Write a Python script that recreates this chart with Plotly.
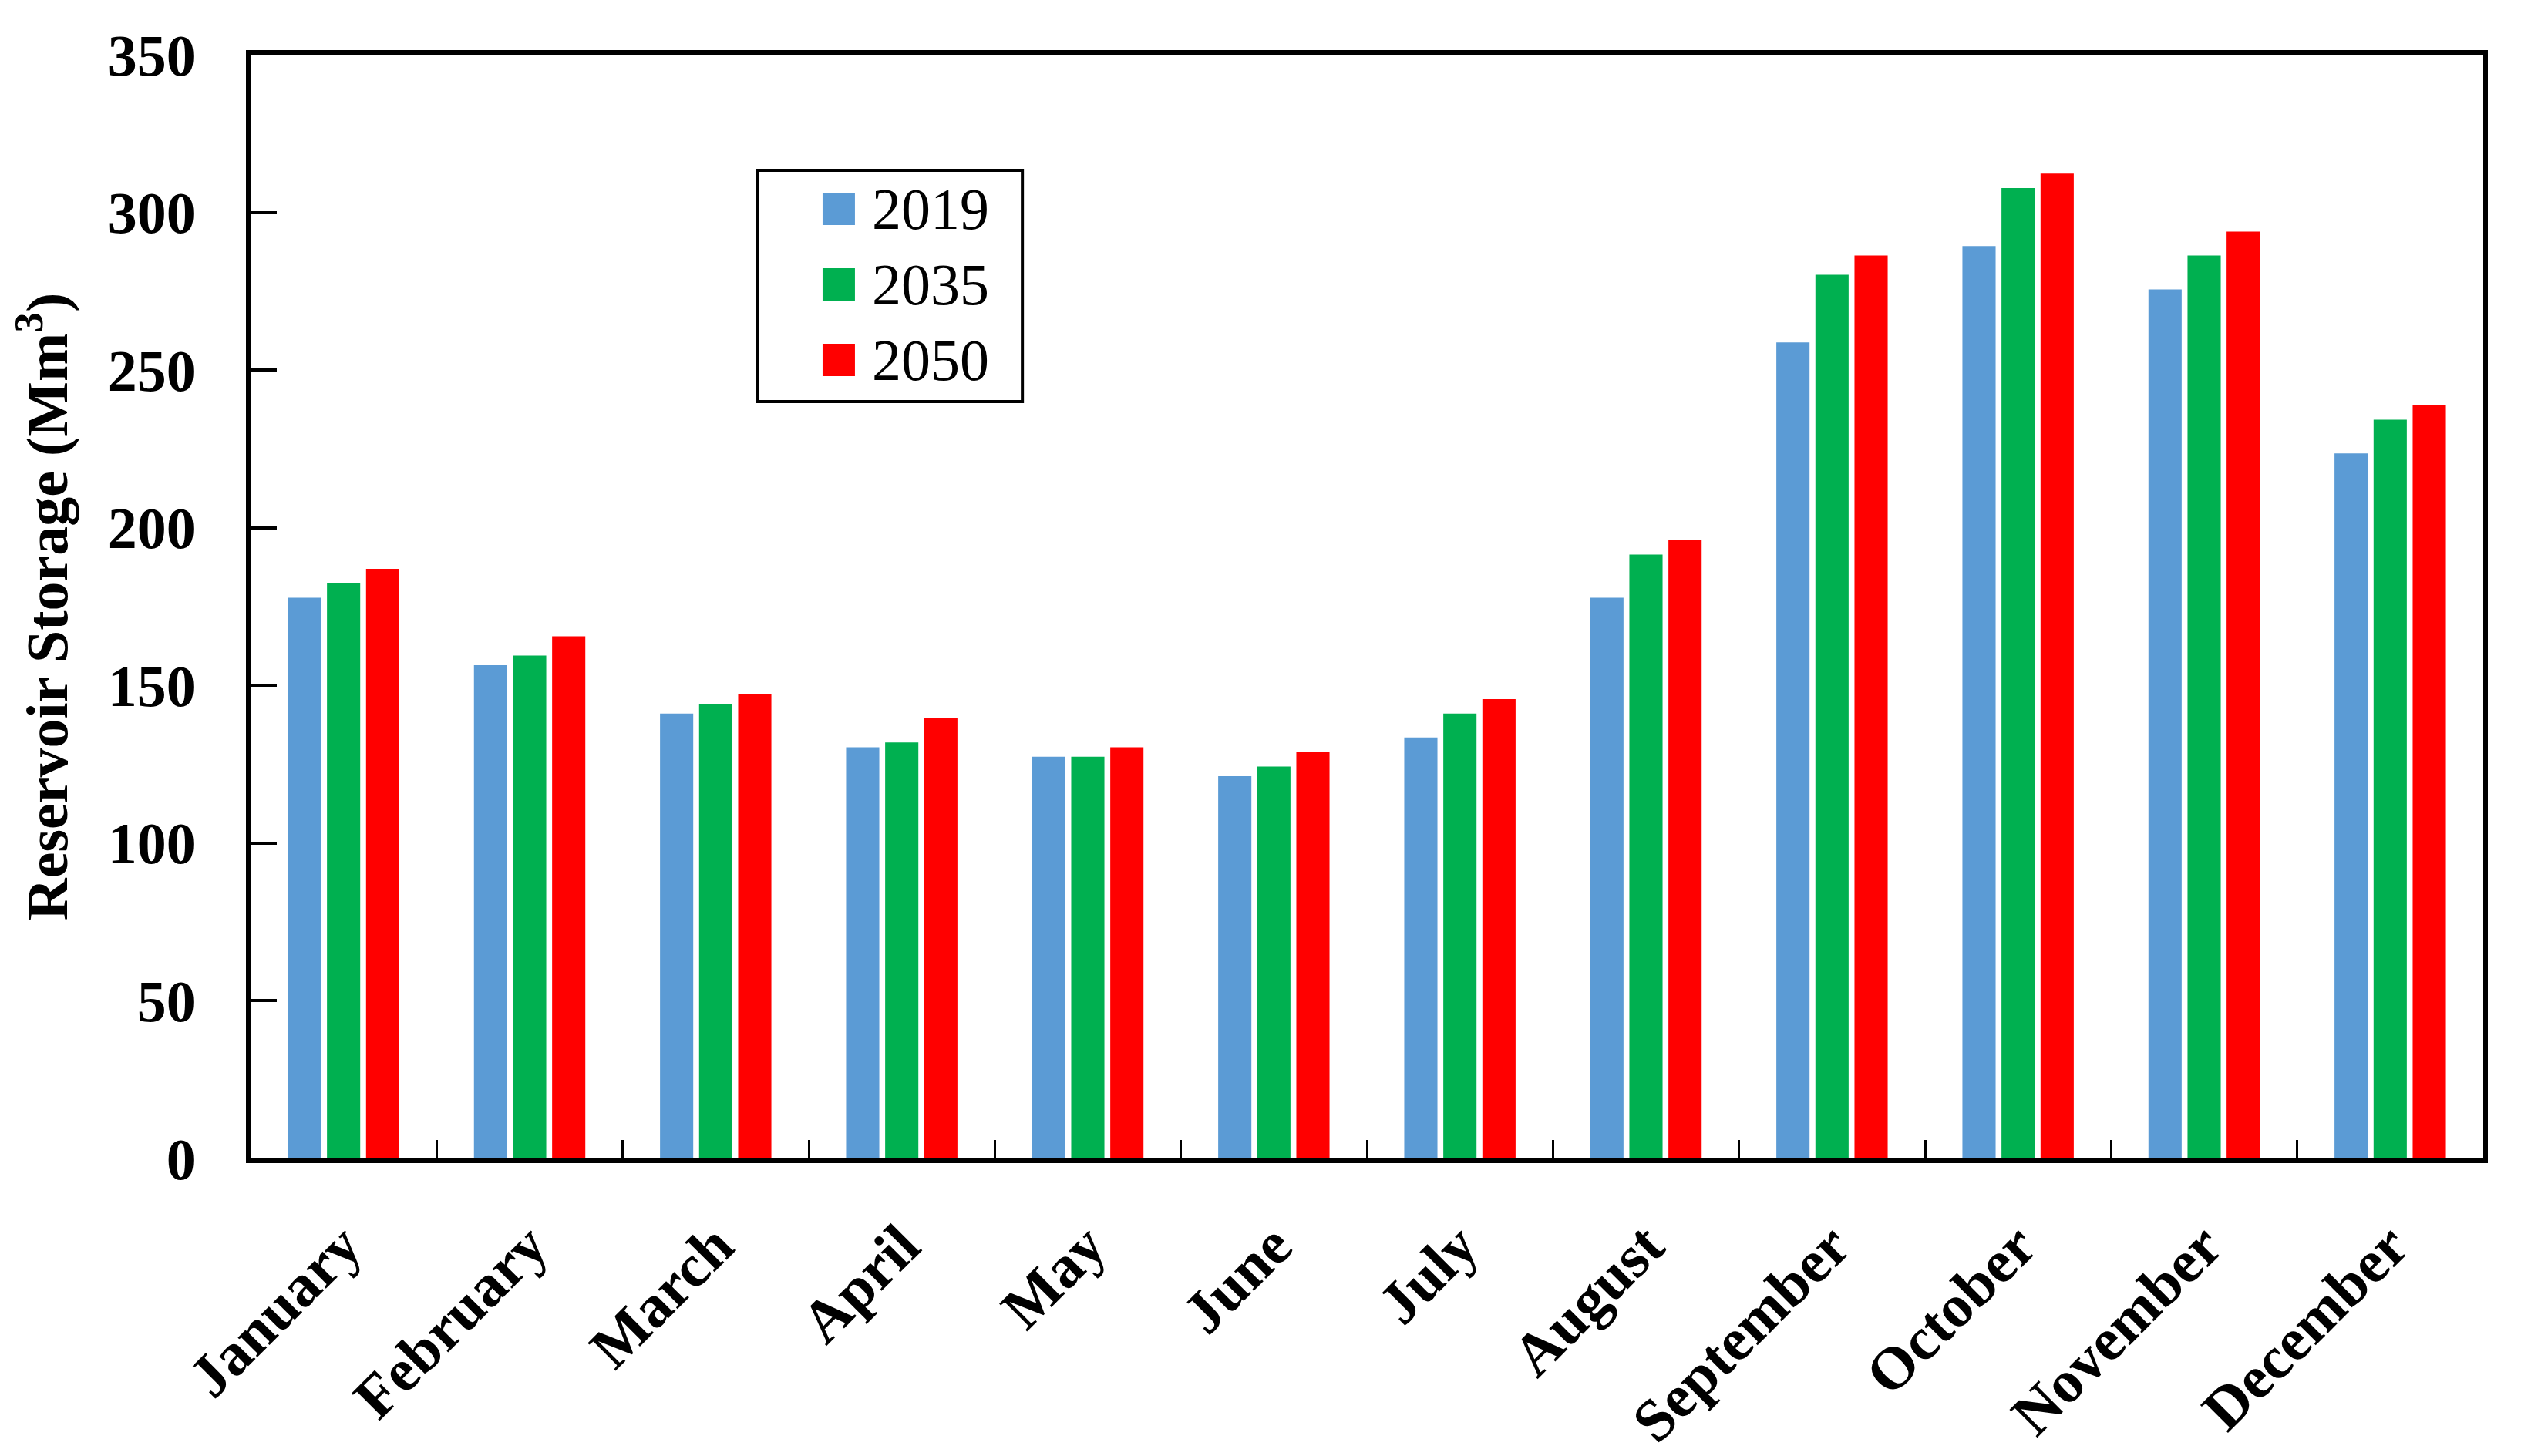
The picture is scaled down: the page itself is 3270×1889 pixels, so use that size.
import plotly.graph_objects as go

months = ["January", "February", "March", "April", "May", "June", "July",
          "August", "September", "October", "November", "December"]
series_names = ["2019", "2035", "2050"]
storage_2019 = [177.8, 156.4, 141.1, 130.4, 127.4, 121.2, 133.5, 177.8, 258.8, 289.3, 275.6, 223.6]
storage_2035 = [182.4, 159.5, 144.2, 131.9, 127.4, 124.3, 141.1, 191.5, 280.2, 307.7, 286.3, 234.3]
storage_2050 = [187.0, 165.6, 147.2, 139.6, 130.4, 128.9, 145.7, 196.1, 286.3, 312.3, 293.9, 238.9]
colors = ["#5B9BD5", "#00B050", "#FF0000"]
y_ticks = [0, 50, 100, 150, 200, 250, 300, 350]

FONT = "Liberation Serif"

fig = go.Figure()
for name, vals, col in zip(series_names, [storage_2019, storage_2035, storage_2050], colors):
    fig.add_trace(go.Bar(x=months, y=vals, name=name, marker=dict(color=col, line=dict(width=0)),
                         showlegend=False))

# manual legend (box + big square swatches)
lx0, lx1, ly0, ly1 = 0.2269, 0.3457, 0.6858, 0.8953
fig.add_shape(type="rect", xref="paper", yref="paper", x0=lx0, x1=lx1, y0=ly0, y1=ly1,
              line=dict(color="black", width=4), fillcolor="white", layer="above")
entry_y = [0.8603, 0.7919, 0.7235]
half = 0.0147
for name, col, ey in zip(series_names, colors, entry_y):
    fig.add_shape(type="rect", xref="paper", yref="paper", x0=0.2562, x1=0.2707,
                  y0=ey - half, y1=ey + half, line=dict(width=0), fillcolor=col, layer="above")
    fig.add_annotation(xref="paper", yref="paper", x=0.2775, y=ey, text=name, showarrow=False,
                       xanchor="left", yanchor="middle",
                       font=dict(family=FONT, size=76, color="black"))

fig.update_layout(
    width=3270, height=1889,
    margin=dict(l=317, r=57, t=63, b=394, autoexpand=False),
    paper_bgcolor="white", plot_bgcolor="white",
    barmode="group", bargap=0.37, bargroupgap=0.15,
    font=dict(family=FONT, color="black"),
)
fig.update_xaxes(
    type="category", showline=True, linecolor="black", linewidth=6, mirror=True,
    ticks="inside", tickson="boundaries", ticklen=24, tickwidth=3, tickcolor="black",
    tickangle=-45, tickfont=dict(family=FONT, size=78, color="black", weight="bold"),
    ticklabelstandoff=30, showgrid=False, automargin=False,
)
fig.update_yaxes(
    range=[0, 350], tickvals=y_ticks, showline=True, linecolor="black", linewidth=6, mirror=True,
    ticks="inside", ticklen=34, tickwidth=4, tickcolor="black",
    tickfont=dict(family=FONT, size=76, color="black", weight="bold"),
    ticklabelstandoff=50, showgrid=False, zeroline=False, automargin=False,
    title=dict(text="Reservoir Storage (Mm<sup>3</sup>)", standoff=40,
               font=dict(family=FONT, size=76, color="black", weight="bold")),
)

fig.write_html("out.html")
